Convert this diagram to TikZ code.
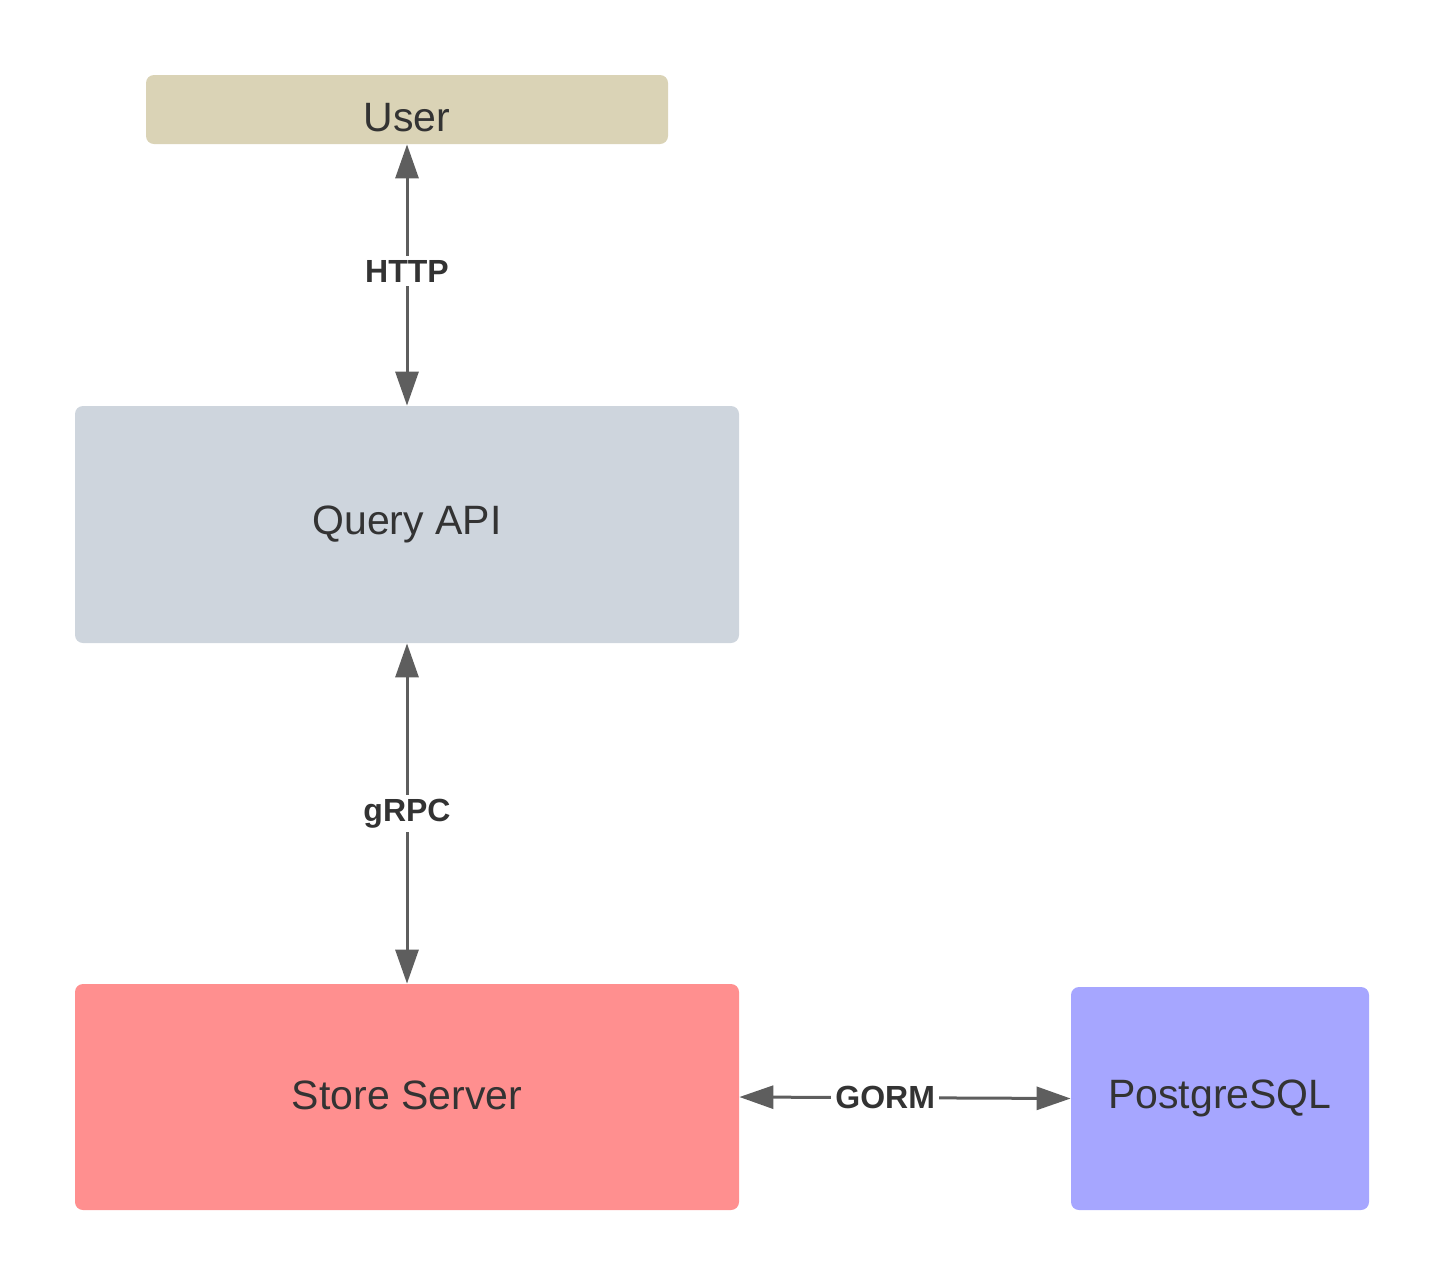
\documentclass[tikz,border=0pt]{standalone}
\usepackage{fontspec}
\setmainfont{Liberation Sans}
\usetikzlibrary{arrows.meta}
\definecolor{userc}{HTML}{DAD3B6}
\definecolor{queryc}{HTML}{CED5DD}
\definecolor{storec}{HTML}{FF8F8F}
\definecolor{pgc}{HTML}{A6A6FF}
\definecolor{linec}{HTML}{5E5E5E}
\definecolor{textc}{HTML}{333333}
\begin{document}
\begin{tikzpicture}[x=0.5pt,y=-0.5pt,
  box/.style={rectangle,rounded corners=4pt,inner sep=0pt,draw=none,text=textc,font=\fontsize{20.5pt}{24pt}\selectfont},
  conn/.style={draw=linec,line width=1.5pt,{Triangle[length=17pt,width=11.5pt]}-{Triangle[length=17pt,width=11.5pt]}},
  lbl/.style={fill=white,inner sep=2pt,text=textc,font=\bfseries\fontsize{16pt}{19pt}\selectfont}]
\useasboundingbox (0,0) rectangle (1446,1286);
\node[box,fill=userc,minimum width=261pt,minimum height=34.5pt] (user) at (407,109.5) {\raisebox{-10.75pt}[0pt][0pt]{User}};
\node[box,fill=queryc,minimum width=332pt,minimum height=118.5pt] (query) at (407,524.5) {Query API};
\node[box,fill=storec,minimum width=332pt,minimum height=113pt] (store) at (407,1097) {\raisebox{1.5pt}{Store Server}};
\node[box,fill=pgc,minimum width=149pt,minimum height=111.5pt] (pg) at (1220,1098.5) {PostgreSQL};
\draw[conn] (user.south) -- node[lbl,pos=0.485] {HTTP} (query.north);
\draw[conn] (query.south) -- node[lbl,pos=0.5] {gRPC} (store.north);
\draw[conn] (store.east) -- node[lbl,pos=0.44] {GORM} (pg.west);
\end{tikzpicture}
\end{document}
